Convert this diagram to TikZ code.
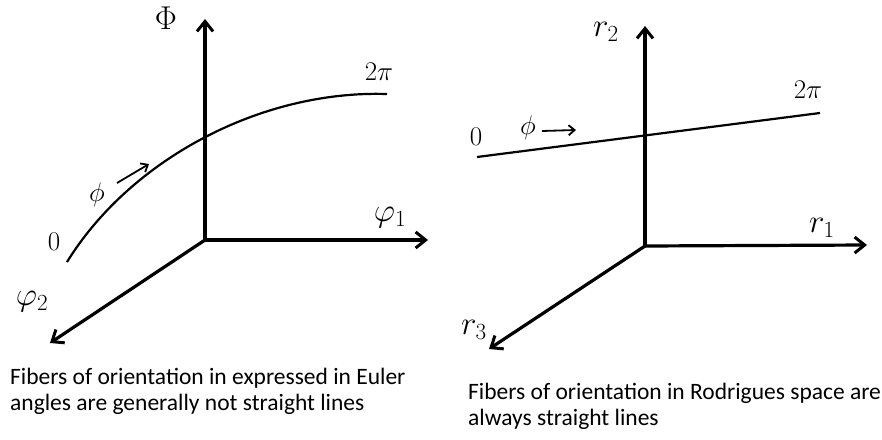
\RequirePackage{fix-cm}
\documentclass[tikz,border=0pt]{standalone}
\usepackage{amsmath}
\usepackage{fontspec}
\setmainfont{Carlito}
\usetikzlibrary{arrows.meta,positioning,calc}

\begin{document}
\begin{tikzpicture}[x=1pt, y=-1pt,
  axis/.style={line width=3.2pt, -{Straight Barb[length=10pt, width=16pt, line width=3pt]}},
  fiber/.style={line width=2.2pt},
  dir/.style={line width=1.8pt, -{Straight Barb[length=6pt, width=10pt, line width=1.8pt]}},
  big/.style={font=\fontsize{33}{35}\selectfont, inner sep=0pt},
  small/.style={font=\fontsize{27}{29}\selectfont, inner sep=0pt},
  caption/.style={font=\fontsize{23.5}{26}\selectfont, align=left, anchor=north west, inner sep=0pt}
]
\useasboundingbox (0,0) rectangle (882,439);

% Euler angle space
\coordinate (o1)   at (205,240);
\coordinate (Phit) at (205,19);
\coordinate (p1t)  at (428,240);
\coordinate (p2t)  at (50,343);
\draw[axis] (o1) -- (Phit);
\draw[axis] (o1) -- (p1t);
\draw[axis] (o1) -- (p2t);

\node[big] (Phi) at (166,18)  {$\Phi$};
\node[big] (p1)  at (390,218) {$\varphi_1$};
\node[big] (p2)  at (32,302)  {$\varphi_2$};

\coordinate (f1a) at (67,262);
\coordinate (f1b) at (387,94);
\draw[fiber] (f1a) .. controls (130,160) and (260,90) .. (f1b);
\node[small] (z1)  at (54,242)  {$0$};
\node[small] (tp1) at (379,72)  {$2\pi$};
\node[small] (ph1) at (97,195)  {$\phi$};
\coordinate (d1a) at (117,183);
\coordinate (d1b) at (149,164);
\draw[dir] (d1a) -- (d1b);

\node[caption] (c1) at (10,368)
  {Fibers of orientation in expressed in Euler\\angles are generally not straight lines};

% Rodrigues space
\coordinate (o2)  at (645,246);
\coordinate (r2t) at (645,26);
\coordinate (r1t) at (867,245);
\coordinate (r3t) at (489,349);
\draw[axis] (o2) -- (r2t);
\draw[axis] (o2) -- (r1t);
\draw[axis] (o2) -- (r3t);

\node[big] (r2) at (606,32)  {$r_2$};
\node[big] (r1) at (822,228) {$r_1$};
\node[big] (r3) at (474,330) {$r_3$};

\coordinate (f2a) at (477,157);
\coordinate (f2b) at (820,113);
\draw[fiber] (f2a) -- (f2b);
\node[small] (z2)  at (476,137) {$0$};
\node[small] (tp2) at (808,90)  {$2\pi$};
\node[small] (ph2) at (528,128) {$\phi$};
\coordinate (d2a) at (542,131);
\coordinate (d2b) at (576,130);
\draw[dir] (d2a) -- (d2b);

\node[caption] (c2) at (468,383)
  {Fibers of orientation in Rodrigues space are\\always straight lines};
\end{tikzpicture}
\end{document}
